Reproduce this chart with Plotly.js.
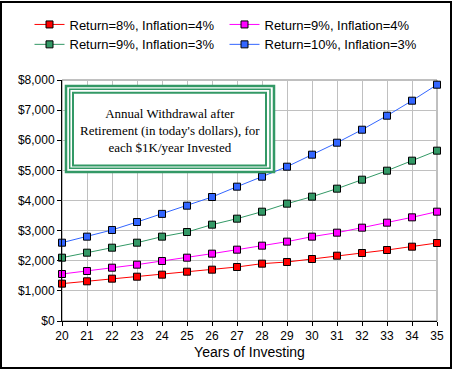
<!DOCTYPE html>
<html>
<head>
<meta charset="utf-8">
<script src="https://cdn.plot.ly/plotly-3.0.1.min.js"></script>
<style>html,body{margin:0;padding:0;background:#fff;}#chart{width:454px;height:371px;}</style>
</head>
<body>
<div id="chart"></div>
<script>
const years = [20,21,22,23,24,25,26,27,28,29,30,31,32,33,34,35];
const seriesNames = ["Return=8%, Inflation=4%","Return=9%, Inflation=4%","Return=9%, Inflation=3%","Return=10%, Inflation=3%"];
const r8i4 = [1240,1318,1405,1471,1538,1637,1704,1793,1903,1959,2058,2168,2257,2357,2467,2589];
const r9i4 = [1560,1660,1770,1870,1992,2102,2235,2368,2501,2634,2800,2932,3098,3264,3441,3629];
const r9i3 = [2102,2268,2434,2600,2800,2954,3198,3397,3629,3895,4127,4393,4691,4990,5322,5654];
const r10i3 = [2600,2800,3021,3286,3556,3828,4116,4459,4790,5122,5521,5919,6350,6815,7313,7844];
const colors = ["#ff0000","#ff00ff","#339966","#3366ff"];
const boxText = "Annual Withdrawal after<br>Retirement (in today's dollars), for<br>each $1K/year Invested";
const xTitle = "Years of Investing";

const W = 454, H = 371;
const M = {l:62, r:17, t:80, b:50, autoexpand:false};
const pw = W - M.l - M.r, ph = H - M.t - M.b;
const px = x => (x - M.l) / pw;
const py = y => (H - M.b - y) / ph;

const allSeries = [r8i4, r9i4, r9i3, r10i3];
const traces = allSeries.map((vals, i) => ({
  x: years, y: vals, name: seriesNames[i], type: 'scatter', mode: 'lines+markers',
  line: {color: colors[i], width: 1},
  marker: {symbol: 'square', size: 7, color: colors[i], line: {color: '#000', width: 1}},
  cliponaxis: false
}));

function rect(x0,y0,x1,y1,color,width,fill,layer){
  return {type:'rect', xref:'paper', yref:'paper', x0:px(x0), x1:px(x1), y0:py(y1), y1:py(y0),
    line:{color:color, width:width}, fillcolor: fill || 'rgba(0,0,0,0)', layer: layer || 'above'};
}

const layout = {
  width: W, height: H,
  margin: M,
  paper_bgcolor: '#ffffff', plot_bgcolor: '#ffffff',
  font: {family: 'Arial, Liberation Sans, sans-serif', size: 11, color: '#000'},
  showlegend: true,
  legend: {
    orientation: 'h',
    x: px(29.5), y: py(9.5), xanchor: 'left', yanchor: 'top',
    font: {size: 13, family: 'Arial, Liberation Sans, sans-serif'},
    entrywidth: 150, bgcolor: 'rgba(0,0,0,0)', traceorder: 'normal'
  },
  xaxis: {
    range: [20, 35], dtick: 1, tick0: 20, showgrid: true, gridcolor: '#c0c0c0', gridwidth: 1,
    showline: true, linecolor: '#000', linewidth: 1, ticks: 'outside', ticklen: 4, tickcolor: '#000',
    zeroline: false, tickfont: {size: 12},
    title: {text: xTitle, font: {size: 14}, standoff: 4}
  },
  yaxis: {
    range: [0, 8000], dtick: 1000, tick0: 0, showgrid: true, gridcolor: '#c0c0c0', gridwidth: 1,
    showline: true, linecolor: '#000', linewidth: 1, ticks: 'outside', ticklen: 4, tickcolor: '#000',
    zeroline: false, tickprefix: '$', tickformat: ',d', tickfont: {size: 12}
  },
  shapes: [
    rect(62, 80, 437, 321, '#808080', 1, null, 'between'),
    rect(1, 2, 451, 368, '#000', 2, null, 'above'),
    rect(66, 86, 274, 172, '#339966', 2.5, '#ffffff', 'above'),
    rect(69.7, 89.3, 270, 168.3, '#339966', 1.5, null, 'above'),
    rect(73, 92.8, 266, 165.5, '#339966', 2, null, 'above')
  ],
  annotations: [{
    xref: 'paper', yref: 'paper', x: px(170), y: py(130), xanchor: 'center', yanchor: 'middle',
    text: boxText, showarrow: false, align: 'center',
    font: {family: 'Times New Roman, Liberation Serif, serif', size: 13, color: '#000'}
  }]
};

Plotly.newPlot('chart', traces, layout, {displayModeBar: false, staticPlot: true});
</script>
</body>
</html>
